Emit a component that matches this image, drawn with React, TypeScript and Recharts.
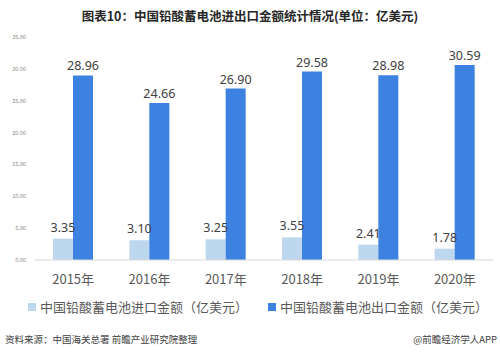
import { BarChart, Bar, XAxis, YAxis, LabelList } from "recharts";

const years = ["2015年", "2016年", "2017年", "2018年", "2019年", "2020年"];
const importValues = [3.35, 3.1, 3.25, 3.55, 2.41, 1.78];
const exportValues = [28.96, 24.66, 26.9, 29.58, 28.98, 30.59];
const yTicks = [0, 5, 10, 15, 20, 25, 30, 35];

const importName = "中国铅酸蓄电池进口金额（亿美元）";
const exportName = "中国铅酸蓄电池出口金额（亿美元）";

const LIGHT = "#BDD7EE";
const DARK = "#3D82E0";
const CJK = '"Noto Sans CJK SC", "Noto Sans", sans-serif';

const data = years.map((year, i) => ({
  year,
  imp: importValues[i],
  exp: exportValues[i],
}));

const fmt = (v: any) => Number(v).toFixed(2);

export default function App() {
  return (
    <div
      style={{
        position: "absolute",
        left: 0,
        top: 0,
        width: 500,
        height: 356,
        background: "#fff",
        fontFamily: CJK,
      }}
    >
      <div
        style={{
          position: "absolute",
          top: 7,
          left: 0,
          width: 500,
          textAlign: "center",
          fontSize: 12.5,
          fontWeight: 700,
          color: "#262626",
          lineHeight: "18px",
        }}
      >
        图表10：中国铅酸蓄电池进出口金额统计情况(单位：亿美元)
      </div>

      <BarChart
        width={500}
        height={356}
        data={data}
        margin={{ top: 37, right: 7, bottom: 66, left: 5 }}
        barGap={0}
        barSize={20}
      >
        <XAxis
          dataKey="year"
          height={30}
          axisLine={{ stroke: "#d9d9d9" }}
          tickLine={false}
          tickSize={0}
          tickMargin={15}
          tick={{ fontSize: 13, fill: "#595959", fontFamily: CJK }}
        />
        <YAxis
          width={30}
          domain={[0, 35]}
          ticks={yTicks}
          interval={0}
          axisLine={false}
          tickLine={false}
          tickSize={0}
          tickMargin={9}
          tickFormatter={fmt}
          tick={{ fontSize: 5.5, fill: "#7f7f7f", fontFamily: CJK }}
        />
        <Bar dataKey="imp" name={importName} fill={LIGHT} isAnimationActive={false}>
          <LabelList
            dataKey="imp"
            position="top"
            offset={7}
            formatter={fmt}
            style={{ fontSize: 12.5, fill: "#404040", fontFamily: '"Noto Sans", sans-serif' }}
          />
        </Bar>
        <Bar dataKey="exp" name={exportName} fill={DARK} isAnimationActive={false}>
          <LabelList
            dataKey="exp"
            position="top"
            offset={5}
            formatter={fmt}
            style={{ fontSize: 12.5, fill: "#404040", fontFamily: '"Noto Sans", sans-serif' }}
          />
        </Bar>
      </BarChart>

      <div
        style={{
          position: "absolute",
          top: 298,
          left: 28,
          display: "flex",
          alignItems: "center",
          fontSize: 13,
          color: "#595959",
          lineHeight: "18px",
          whiteSpace: "nowrap",
        }}
      >
        <span style={{ width: 8, height: 8, background: LIGHT, marginRight: 4 }} />
        <span>{importName}</span>
        <span style={{ width: 8, height: 8, background: DARK, marginLeft: 20, marginRight: 4 }} />
        <span>{exportName}</span>
      </div>

      <div
        style={{
          position: "absolute",
          top: 332,
          left: 5,
          fontSize: 9.5,
          color: "#404040",
          lineHeight: "14px",
        }}
      >
        资料来源：中国海关总署 前瞻产业研究院整理
      </div>
      <div
        style={{
          position: "absolute",
          top: 332,
          right: 3,
          fontSize: 9.5,
          color: "#404040",
          lineHeight: "14px",
        }}
      >
        @前瞻经济学人APP
      </div>
    </div>
  );
}
